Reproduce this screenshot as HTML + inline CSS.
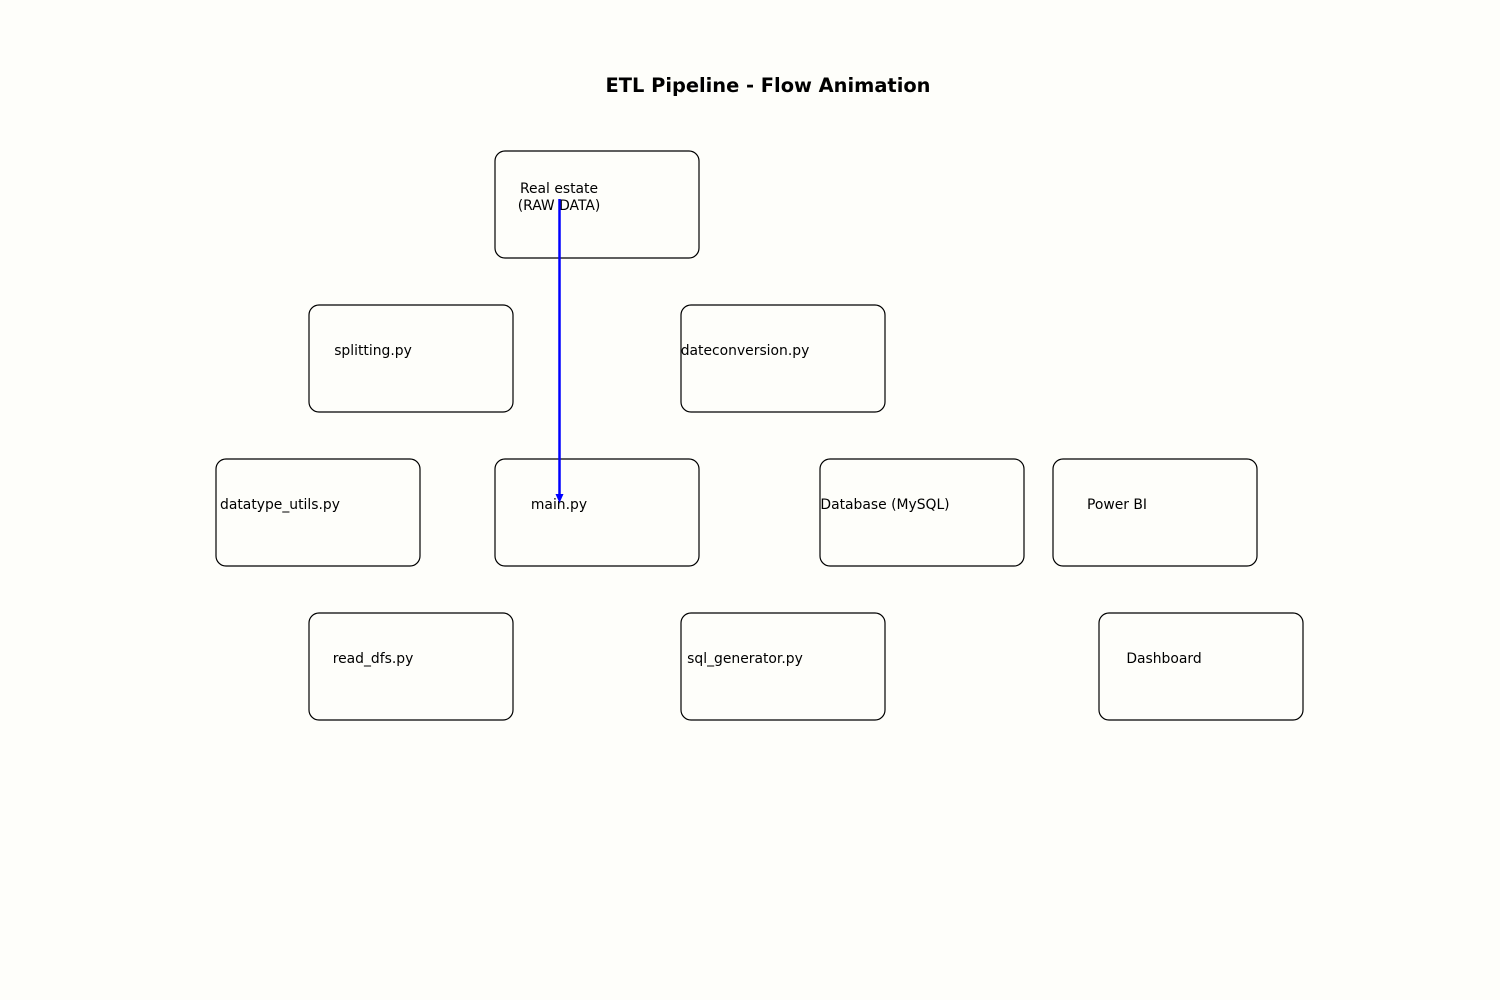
<!DOCTYPE html>
<html><head><style>html,body{margin:0;padding:0;background:#fefefa;}</style></head>
<body>
<svg width="1500" height="1000" xmlns="http://www.w3.org/2000/svg" style="display:block">
<rect width="1500" height="1000" fill="#fefefa"/>
<text x="768" y="92" text-anchor="middle" font-family="DejaVu Sans, sans-serif" font-weight="bold" font-size="19.4">ETL Pipeline - Flow Animation</text>
<g fill="none" stroke="#000" stroke-width="1.2">
<rect x="495" y="151" width="204" height="107" rx="10"/>
<rect x="309" y="305" width="204" height="107" rx="10"/>
<rect x="681" y="305" width="204" height="107" rx="10"/>
<rect x="216" y="459" width="204" height="107" rx="10"/>
<rect x="495" y="459" width="204" height="107" rx="10"/>
<rect x="820" y="459" width="204" height="107" rx="10"/>
<rect x="1053" y="459" width="204" height="107" rx="10"/>
<rect x="309" y="613" width="204" height="107" rx="10"/>
<rect x="681" y="613" width="204" height="107" rx="10"/>
<rect x="1099" y="613" width="204" height="107" rx="10"/>
</g>
<g font-family="DejaVu Sans, sans-serif" font-size="13.9" text-anchor="middle" fill="#000">
<text x="559" y="193">Real estate</text>
<text x="559" y="210">(RAW DATA)</text>
<text x="373" y="355">splitting.py</text>
<text x="745" y="355">dateconversion.py</text>
<text x="280" y="509">datatype_utils.py</text>
<text x="559" y="509">main.py</text>
<text x="885" y="509">Database (MySQL)</text>
<text x="1117" y="509">Power BI</text>
<text x="373" y="663">read_dfs.py</text>
<text x="745" y="663">sql_generator.py</text>
<text x="1164" y="663">Dashboard</text>
</g>
<line x1="559.5" y1="199" x2="559.5" y2="495" stroke="#0000ff" stroke-width="2.5"/>
<polygon points="555.5,494 563.5,494 559.5,503" fill="#0000ff"/>
</svg>
</body></html>
